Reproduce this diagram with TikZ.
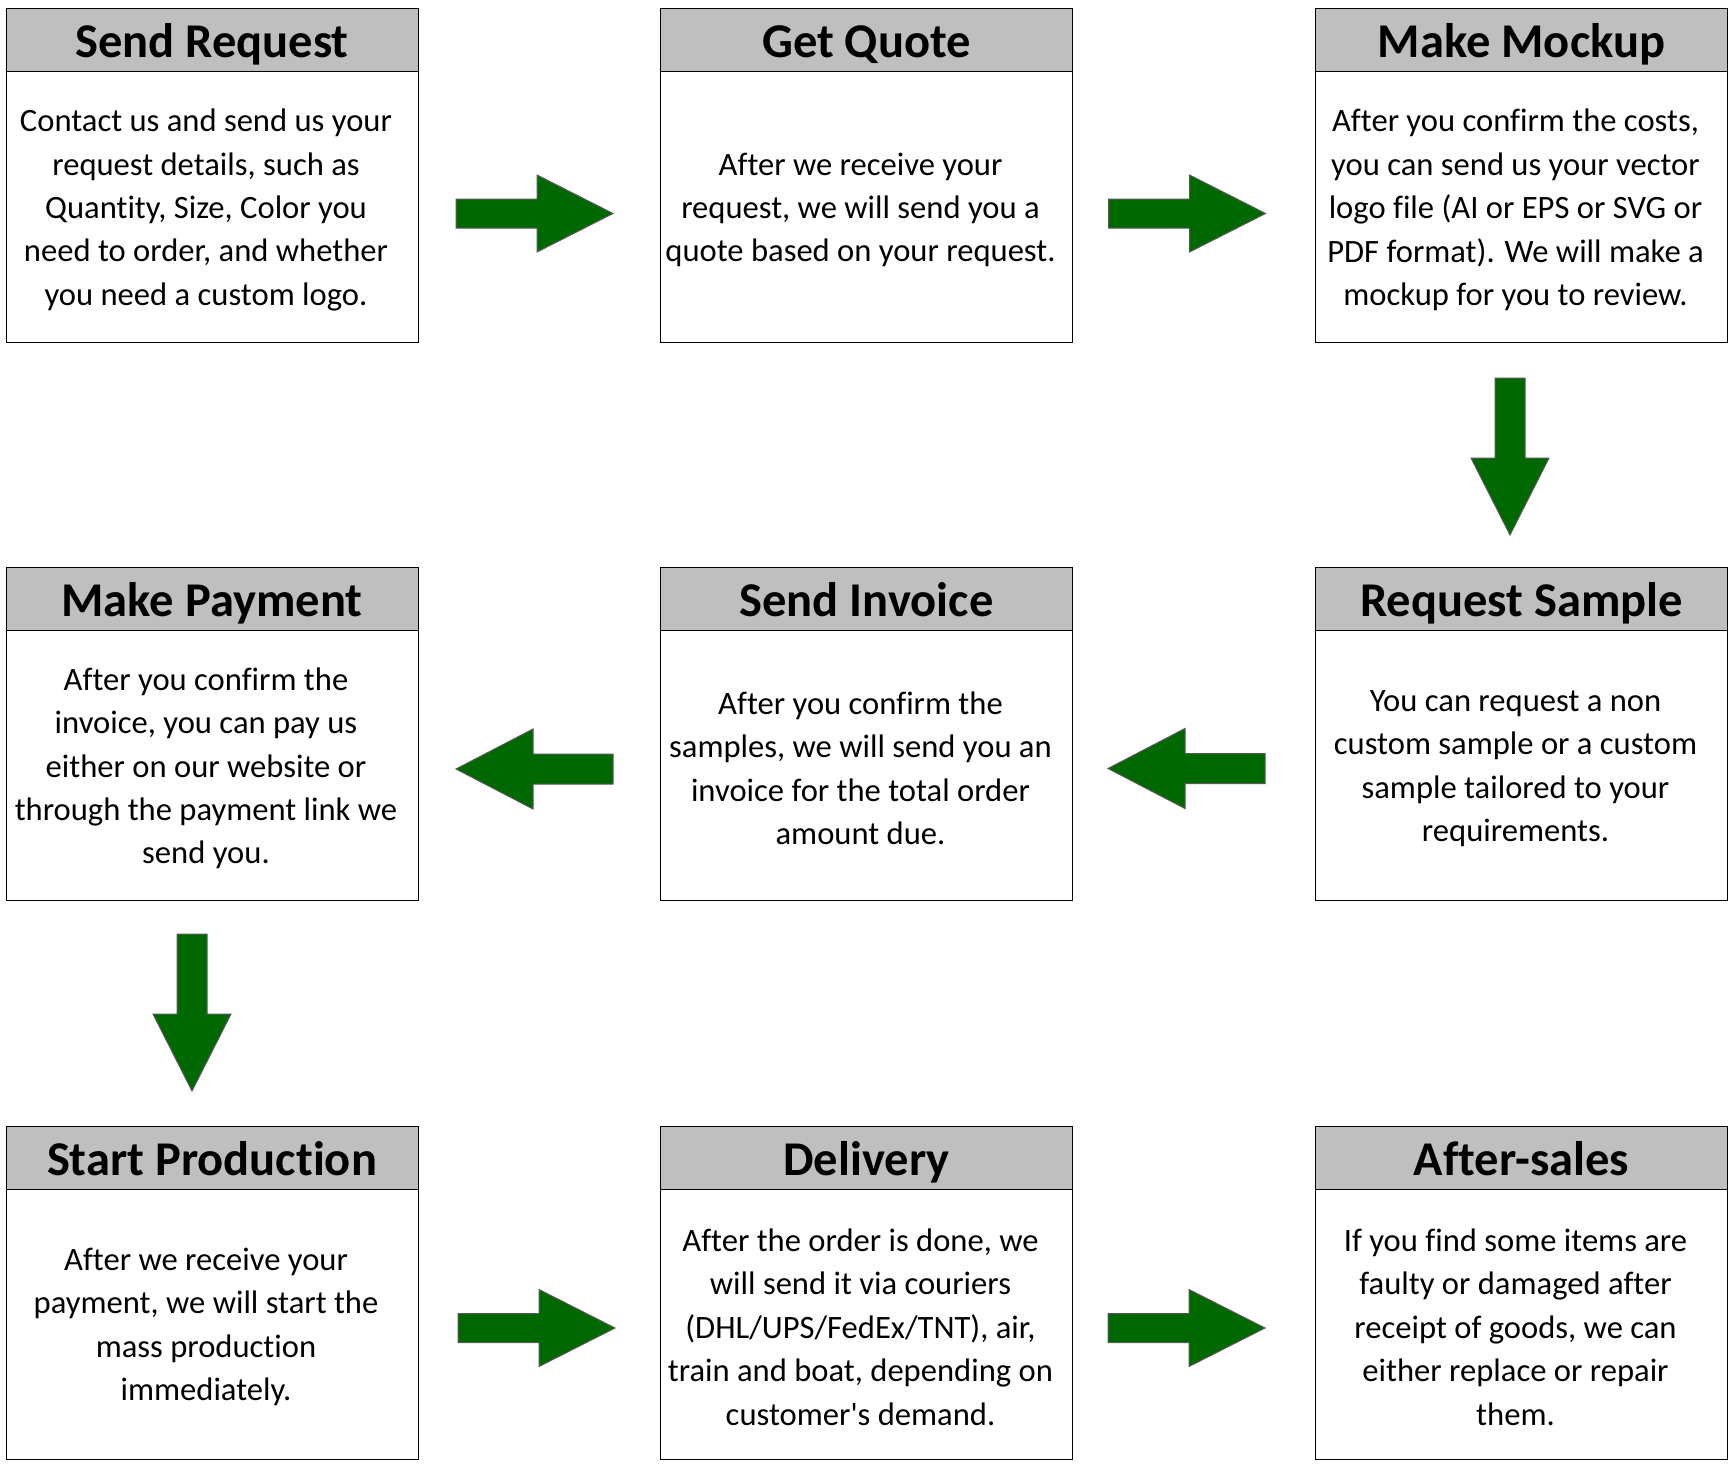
\documentclass[tikz,border=0pt]{standalone}
\usepackage{fontspec}
\setmainfont{Carlito}[Ligatures={TeX,NoCommon}]
\definecolor{hdrgray}{RGB}{191,191,191}
\definecolor{arrowgreen}{RGB}{0,104,0}
\begin{document}
\begin{tikzpicture}[x=1pt,y=-1pt,
  hdr/.style={draw=black, line width=1pt, fill=hdrgray, minimum width=412pt, minimum height=63pt,
    anchor=north west, inner sep=0pt, text height=31pt, text depth=0pt},
  htxt/.style={inner sep=0pt, text height=31pt, text depth=0pt, font=\fontsize{48.5}{58}\selectfont\bfseries},
  bdy/.style={draw=black, line width=1pt, fill=white, minimum width=412pt, minimum height=270pt,
    anchor=north west, inner sep=0pt},
  btxt/.style={align=center, inner sep=0pt, font=\fontsize{32.6}{43.4}\selectfont},
  garrow/.style={fill=arrowgreen, draw=black!65, line width=1pt, line join=miter},
  rarrow/.pic={\path[garrow] (0,-14.5) -- (81,-14.5) -- (81,-38.5) -- (157,0) -- (81,38.5) -- (81,14.5) -- (0,14.5) -- cycle;},
  larrow/.pic={\path[garrow] (0,0) -- (77,-40) -- (77,-15) -- (157,-15) -- (157,15) -- (77,15) -- (77,40) -- cycle;},
  darrow/.pic={\path[garrow] (-15,0) -- (15,0) -- (15,80) -- (39,80) -- (0,157) -- (-39,80) -- (-15,80) -- cycle;}
]
\useasboundingbox (0,0) rectangle (1733,1472);
\fill[white] (0,0) rectangle (1733,1472);

% Row 1
\node[bdy] (b1) at (5.5,71.5) {};
\node[hdr] (h1) at (5.5,8.5) {};
\node[htxt] (l1) at ([yshift=-2pt]h1.center) {Send Request};
\node[btxt] (t1) at ([xshift=-6pt,yshift=-3pt]b1.center) {Contact us and send us your\\request details, such as\\Quantity, Size, Color you\\need to order, and whether\\you need a custom logo.};

\node[bdy] (b2) at (660,71.5) {};
\node[hdr] (h2) at (660,8.5) {};
\node[htxt] (l2) at ([yshift=-2pt]h2.center) {Get Quote};
\node[btxt] (t2) at ([xshift=-6pt,yshift=-3pt]b2.center) {After we receive your\\request, we will send you a\\quote based on your request.};

\node[bdy] (b3) at (1315,71.5) {};
\node[hdr] (h3) at (1315,8.5) {};
\node[htxt] (l3) at ([yshift=-2pt]h3.center) {Make Mockup};
\node[btxt] (t3) at ([xshift=-6pt,yshift=-3pt]b3.center) {After you confirm the costs,\\you can send us your vector\\logo file (AI or EPS or SVG or\\PDF format). We will make a\\mockup for you to review.};

% Row 2
\node[bdy] (b6) at (5.5,630) {};
\node[hdr] (h6) at (5.5,567) {};
\node[htxt] (l6) at ([yshift=-2pt]h6.center) {Make Payment};
\node[btxt] (t6) at ([xshift=-6pt,yshift=-3pt]b6.center) {After you confirm the\\invoice, you can pay us\\either on our website or\\through the payment link we\\send you.};

\node[bdy] (b5) at (660,630) {};
\node[hdr] (h5) at (660,567) {};
\node[htxt] (l5) at ([yshift=-2pt]h5.center) {Send Invoice};
\node[btxt] (t5) at ([xshift=-6pt,yshift=-3pt]b5.center) {After you confirm the\\samples, we will send you an\\invoice for the total order\\amount due.};

\node[bdy] (b4) at (1315,630) {};
\node[hdr] (h4) at (1315,567) {};
\node[htxt] (l4) at ([yshift=-2pt]h4.center) {Request Sample};
\node[btxt] (t4) at ([xshift=-6pt,yshift=-3pt]b4.center) {You can request a non\\custom sample or a custom\\sample tailored to your\\requirements.};

% Row 3
\node[bdy] (b7) at (5.5,1188.5) {};
\node[hdr] (h7) at (5.5,1125.5) {};
\node[htxt] (l7) at ([yshift=-2pt]h7.center) {Start Production};
\node[btxt] (t7) at ([xshift=-6pt,yshift=-3pt]b7.center) {After we receive your\\payment, we will start the\\mass production\\immediately.};

\node[bdy] (b8) at (660,1188.5) {};
\node[hdr] (h8) at (660,1125.5) {};
\node[htxt] (l8) at ([yshift=-2pt]h8.center) {Delivery};
\node[btxt] (t8) at ([xshift=-6pt,yshift=-3pt]b8.center) {After the order is done, we\\will send it via couriers\\(DHL/UPS/FedEx/TNT), air,\\train and boat, depending on\\customer\textquotesingle s demand.};

\node[bdy] (b9) at (1315,1188.5) {};
\node[hdr] (h9) at (1315,1125.5) {};
\node[htxt] (l9) at ([yshift=-2pt]h9.center) {After-sales};
\node[btxt] (t9) at ([xshift=-6pt,yshift=-3pt]b9.center) {If you find some items are\\faulty or damaged after\\receipt of goods, we can\\either replace or repair\\them.};

% Arrows
\pic at (456,213.5) {rarrow};
\pic at (1108.5,213.5) {rarrow};
\pic at (1510,378) {darrow};
\pic at (1108,768.5) {larrow};
\pic at (456,769) {larrow};
\pic at (192,934) {darrow};
\pic at (458,1328) {rarrow};
\pic at (1108,1328) {rarrow};
\end{tikzpicture}
\end{document}
